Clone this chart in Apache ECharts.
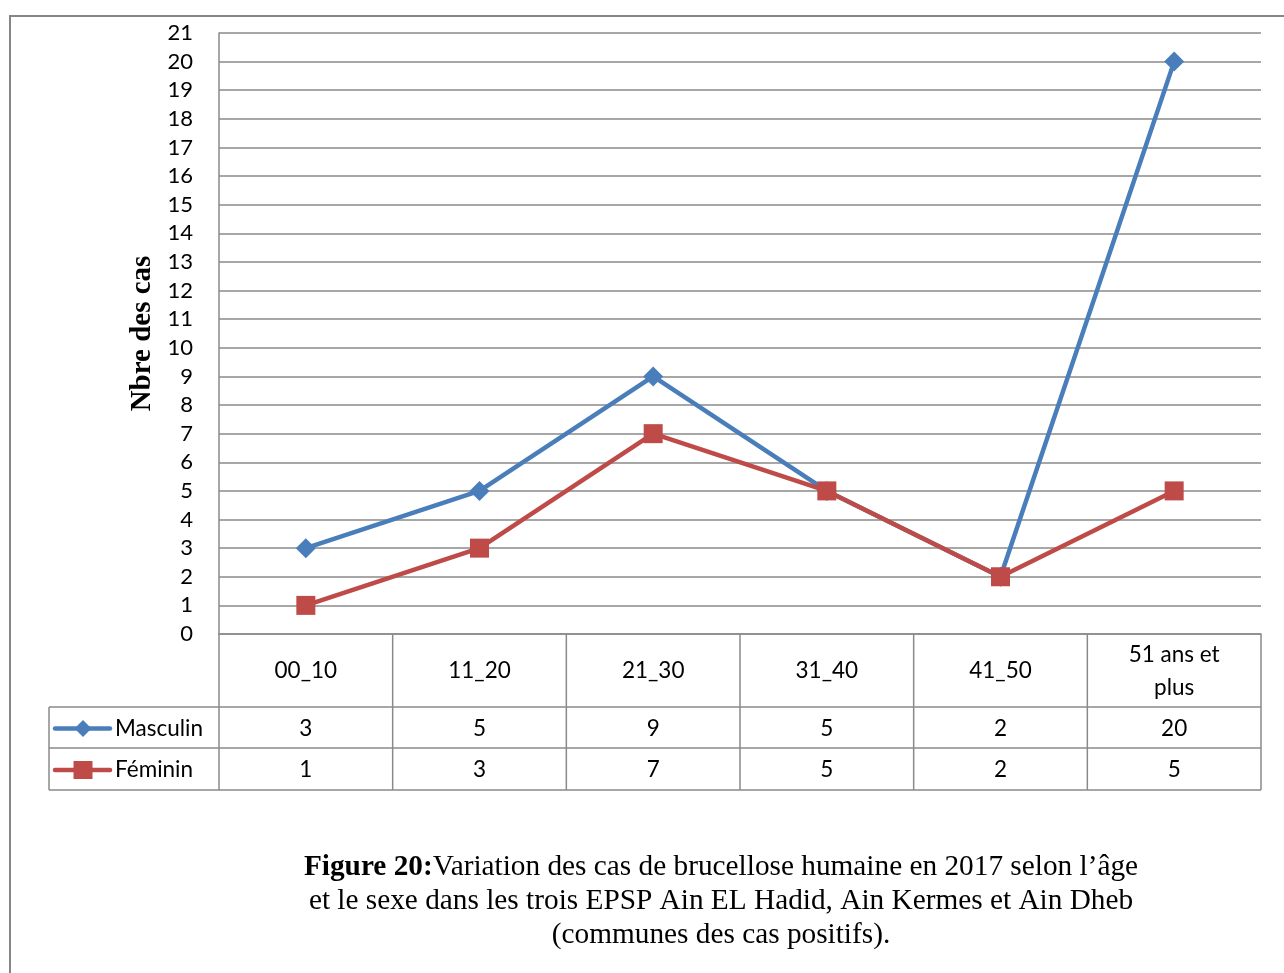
<!DOCTYPE html>
<html>
<head>
<meta charset="utf-8">
<script src="https://cdn.jsdelivr.net/npm/echarts@6/dist/echarts.min.js"></script>
<style>
html,body{margin:0;padding:0;background:#fff;}
#chart{width:1284px;height:973px;}
</style>
</head>
<body>
<div id="chart"></div>
<script>
const categories = ['00_10', '11_20', '21_30', '31_40', '41_50', '51 ans et\nplus'];
const seriesNames = ['Masculin', 'Féminin'];
const masculin = [3, 5, 9, 5, 2, 20];
const feminin = [1, 3, 7, 5, 2, 5];
const yMin = 0, yMax = 21, yStep = 1;
const yAxisTitle = 'Nbre des cas';
const captionBold = 'Figure 20:';
const captionLines = [
  'Variation des cas de brucellose humaine en 2017 selon l\u2019âge',
  'et le sexe dans les trois EPSP Ain EL Hadid, Ain Kermes et Ain Dheb',
  '(communes des cas positifs).'
];

const BLUE = '#4a7ebb';
const RED = '#be4b48';
const GRID = '#8a8a8a';
const SANS = 'Lato, "Open Sans", sans-serif';
const SERIF = '"Liberation Serif", "Times New Roman", serif';

const chart = echarts.init(document.getElementById('chart'));

const option = {
  animation: false,
  backgroundColor: '#fff',
  grid: { left: 219, top: 33, right: 23, bottom: 339, containLabel: false },
  xAxis: {
    type: 'category',
    data: categories,
    boundaryGap: true,
    axisLine: { show: true, lineStyle: { color: GRID, width: 1.5 } },
    axisTick: { show: false },
    axisLabel: {
      fontFamily: SANS, fontSize: 22.5, color: '#000',
      verticalAlign: 'middle', margin: 37, lineHeight: 33, interval: 0
    },
    splitLine: { show: false }
  },
  yAxis: {
    type: 'value',
    min: yMin, max: yMax, interval: yStep,
    name: yAxisTitle,
    nameLocation: 'middle',
    nameGap: 57,
    nameRotate: 90,
    nameTextStyle: { fontFamily: SERIF, fontSize: 29, fontWeight: 'bold', color: '#000' },
    axisLine: { show: true, lineStyle: { color: GRID, width: 1.5 } },
    axisTick: { show: false },
    axisLabel: { fontFamily: SANS, fontSize: 22, color: '#000', margin: 26 },
    splitLine: { show: true, lineStyle: { color: GRID, width: 1.5 } }
  },
  series: [
    {
      name: seriesNames[0], type: 'line', data: masculin,
      symbol: 'diamond', symbolSize: 20,
      lineStyle: { color: BLUE, width: 4.5 },
      itemStyle: { color: BLUE },
      z: 3
    },
    {
      name: seriesNames[1], type: 'line', data: feminin,
      symbol: 'rect', symbolSize: 19,
      lineStyle: { color: RED, width: 4.5 },
      itemStyle: { color: RED },
      z: 4
    }
  ]
};

chart.setOption(option);

function buildGraphics() {
  const c0 = chart.convertToPixel({ xAxisIndex: 0 }, 0);
  const c1 = chart.convertToPixel({ xAxisIndex: 0 }, 1);
  const colW = c1 - c0;
  const y0 = chart.convertToPixel({ yAxisIndex: 0 }, yMin);
  const xLeft = c0 - colW / 2;
  const xRight = c0 + colW * (categories.length - 0.5);
  const tableLeft = 49;
  const headerH = 73, rowH1 = 41, rowH2 = 42;
  const r1 = y0 + headerH, r2 = r1 + rowH1, r3 = r2 + rowH2;
  const lineStyle = { stroke: GRID, lineWidth: 1.5 };
  const els = [];
  // outer frame
  els.push({ type: 'polyline', shape: { points: [[10, 1100], [10, 16], [1400, 16]] }, style: { stroke: '#868686', lineWidth: 2, fill: null } });
  // vertical column lines
  for (let i = 0; i <= categories.length; i++) {
    const x = xLeft + i * colW;
    els.push({ type: 'line', shape: { x1: x, y1: y0, x2: x, y2: r3 }, style: lineStyle });
  }
  // horizontal rows
  [r1, r2, r3].forEach(y => {
    els.push({ type: 'line', shape: { x1: tableLeft, y1: y, x2: xRight, y2: y }, style: lineStyle });
  });
  els.push({ type: 'line', shape: { x1: tableLeft, y1: r1, x2: tableLeft, y2: r3 }, style: lineStyle });
  // rows: legend key + name + values
  const rows = [
    [masculin, (r1 + r2) / 2 + 1, BLUE, 'diamond', seriesNames[0]],
    [feminin, (r2 + r3) / 2 + 1, RED, 'rect', seriesNames[1]]
  ];
  rows.forEach(([vals, yc, color, sym, name]) => {
    els.push({ type: 'line', shape: { x1: 55, y1: yc, x2: 110, y2: yc }, style: { stroke: color, lineWidth: 4.5, lineCap: 'round' } });
    if (sym === 'diamond') {
      els.push({ type: 'polygon', shape: { points: [[83, yc - 8.5], [91.5, yc], [83, yc + 8.5], [74.5, yc]] }, style: { fill: color } });
    } else {
      els.push({ type: 'rect', shape: { x: 73.5, y: yc - 9, width: 19, height: 18 }, style: { fill: color } });
    }
    els.push({
      type: 'text', x: 115, y: yc,
      style: { text: name, fontFamily: SANS, fontSize: 22.5, fill: '#000', align: 'left', verticalAlign: 'middle' }
    });
    vals.forEach((v, i) => {
      els.push({
        type: 'text', x: c0 + i * colW, y: yc,
        style: { text: String(v), fontFamily: SANS, fontSize: 22.5, fill: '#000', align: 'center', verticalAlign: 'middle' }
      });
    });
  });
  // caption
  const cx = 721;
  els.push({
    type: 'text', x: cx, y: 867.5,
    style: {
      text: '{b|' + captionBold + '}{n|' + captionLines[0] + '}',
      align: 'center', verticalAlign: 'middle',
      rich: {
        b: { fontFamily: SERIF, fontSize: 29.3, fontWeight: 'bold', fill: '#000' },
        n: { fontFamily: SERIF, fontSize: 29.3, fill: '#000' }
      }
    }
  });
  captionLines.slice(1).forEach((t, i) => {
    els.push({
      type: 'text', x: cx, y: 901.5 + i * 34,
      style: { text: t, fontFamily: SERIF, fontSize: 29.3, fill: '#000', align: 'center', verticalAlign: 'middle' }
    });
  });
  chart.setOption({ graphic: els });
}
buildGraphics();
</script>
</body>
</html>
